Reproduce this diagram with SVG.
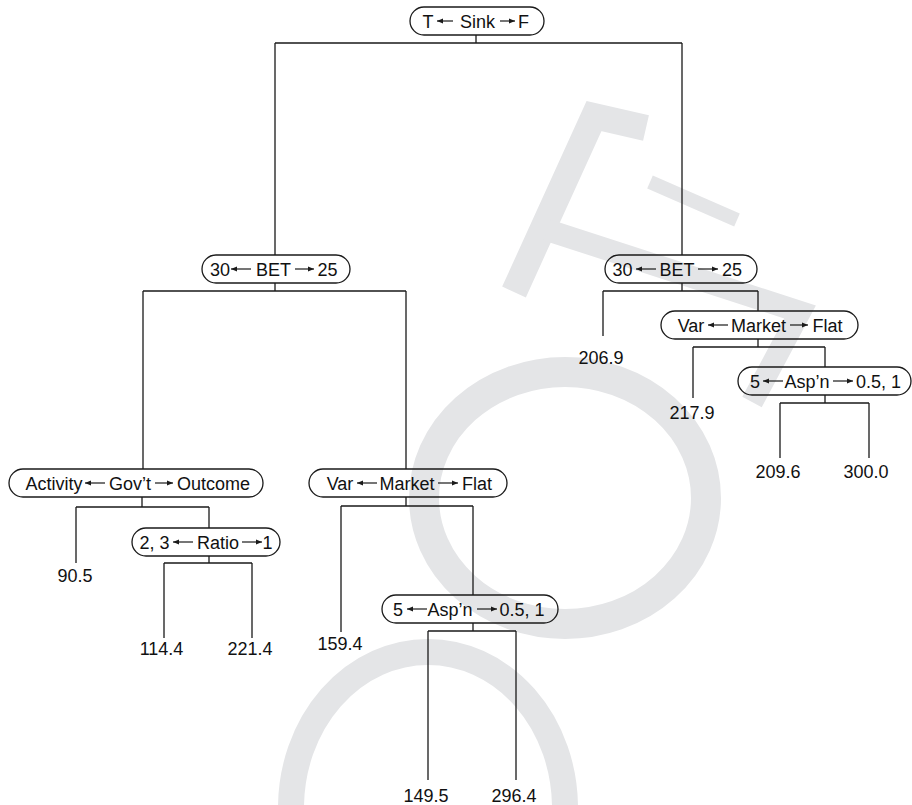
<svg xmlns="http://www.w3.org/2000/svg" width="912" height="805" viewBox="0 0 912 805">
<style>
.wm{fill:none;stroke:#e4e5e7;stroke-linecap:butt;stroke-linejoin:miter}
.pill{fill:none;stroke:#1a1a1a;stroke-width:1.3}
.cn{fill:none;stroke:#1a1a1a;stroke-width:1.3}
.ar{fill:none;stroke:#1a1a1a;stroke-width:1.2}
text{font-family:"Liberation Sans",Arial,sans-serif;font-size:18px;fill:#111;text-anchor:middle}
</style>
<defs>
<marker id="ah" markerUnits="userSpaceOnUse" markerWidth="8" markerHeight="8" refX="6" refY="3" orient="auto">
<path d="M0,0.4 L6,3 L0,5.6 Z" fill="#1a1a1a"/>
</marker>
</defs>
<rect width="912" height="805" fill="#ffffff"/>
<g id="watermark">
<ellipse class="wm" cx="565" cy="498" rx="141" ry="126" stroke-width="30"/>
<ellipse class="wm" cx="428" cy="808" rx="137" ry="156" stroke-width="26"/>
<polyline class="wm" points="514,292 594,116 646,128" stroke-width="26"/>
<line class="wm" x1="650" y1="182" x2="737" y2="220" stroke-width="14"/>
<polyline class="wm" points="547,230 800,312 752,402" stroke-width="22"/>
</g>
<g id="connectors">
<path class="cn" d="M476,35V43M275,43H682M275,43V255M682,43V255"/>
<path class="cn" d="M275,283V291M143,291H406M143,291V469M406,291V469"/>
<path class="cn" d="M682,283V291M603,291H758M603,291V336M758,291V311"/>
<path class="cn" d="M758,339V347M693,347H825M693,347V398M825,347V367"/>
<path class="cn" d="M825,395V403M780,403H869M780,403V458M869,403V458"/>
<path class="cn" d="M142,497V507M76,507H209M76,507V563M209,507V528"/>
<path class="cn" d="M209,556V563M164,563H252M164,563V638M252,563V638"/>
<path class="cn" d="M406,497V506M341,506H473M341,506V632M473,506V595"/>
<path class="cn" d="M473,623V631M428,631H516M428,631V780M516,631V780"/>
</g>
<g id="n-root">
<rect class="pill" x="410" y="7" width="134" height="28" rx="14"/>
<text x="428" y="27.5">T</text><path class="ar" d="M453,21H437" marker-end="url(#ah)"/>
<text x="477.5" y="27.5">Sink</text><path class="ar" d="M500,21H515" marker-end="url(#ah)"/>
<text x="523.5" y="27.5">F</text>
</g>
<g id="n-bet-left">
<rect class="pill" x="202" y="255" width="148" height="28" rx="14"/>
<text x="220" y="275.5">30</text><path class="ar" d="M251,269H231" marker-end="url(#ah)"/>
<text x="273.5" y="275.5">BET</text><path class="ar" d="M295,269H314" marker-end="url(#ah)"/>
<text x="327.5" y="275.5">25</text>
</g>
<g id="n-bet-right">
<rect class="pill" x="605" y="255" width="152" height="28" rx="14"/>
<text x="622.5" y="275.5">30</text><path class="ar" d="M656,269H636" marker-end="url(#ah)"/>
<text x="677" y="275.5">BET</text><path class="ar" d="M698,269H718" marker-end="url(#ah)"/>
<text x="732" y="275.5">25</text>
</g>
<g id="n-market-right">
<rect class="pill" x="661" y="311" width="197" height="28" rx="14"/>
<text x="691" y="331.5">Var</text><path class="ar" d="M728,325H708" marker-end="url(#ah)"/>
<text x="758.5" y="331.5">Market</text><path class="ar" d="M790,325H808" marker-end="url(#ah)"/>
<text x="827.5" y="331.5">Flat</text>
</g>
<g id="n-asp-right">
<rect class="pill" x="738" y="367" width="173" height="28" rx="14"/>
<text x="755" y="387.5">5</text><path class="ar" d="M783,381H763" marker-end="url(#ah)"/>
<text x="807" y="387.5">Asp’n</text><path class="ar" d="M833,381H853" marker-end="url(#ah)"/>
<text x="878.5" y="387.5">0.5, 1</text>
</g>
<g id="n-govt">
<rect class="pill" x="9" y="469" width="254" height="28" rx="14"/>
<text x="54" y="489.5">Activity</text><path class="ar" d="M105,483H85" marker-end="url(#ah)"/>
<text x="130" y="489.5">Gov’t</text><path class="ar" d="M155,483H173" marker-end="url(#ah)"/>
<text x="213.5" y="489.5">Outcome</text>
</g>
<g id="n-ratio">
<rect class="pill" x="132" y="528" width="148" height="28" rx="14"/>
<text x="154.5" y="548.5">2, 3</text><path class="ar" d="M193,542H173" marker-end="url(#ah)"/>
<text x="218" y="548.5">Ratio</text><path class="ar" d="M242,542H262" marker-end="url(#ah)"/>
<text x="267.5" y="548.5">1</text>
</g>
<g id="n-market-mid">
<rect class="pill" x="309" y="469" width="198" height="28" rx="14"/>
<text x="340" y="489.5">Var</text><path class="ar" d="M377,483H357" marker-end="url(#ah)"/>
<text x="407" y="489.5">Market</text><path class="ar" d="M438,483H458" marker-end="url(#ah)"/>
<text x="477" y="489.5">Flat</text>
</g>
<g id="n-asp-mid">
<rect class="pill" x="382" y="595" width="176" height="28" rx="14"/>
<text x="398" y="615.5">5</text><path class="ar" d="M427,609H407" marker-end="url(#ah)"/>
<text x="450" y="615.5">Asp’n</text><path class="ar" d="M477,609H497" marker-end="url(#ah)"/>
<text x="522" y="615.5">0.5, 1</text>
</g>
<g id="leaves">
<text x="601" y="364">206.9</text>
<text x="692" y="419">217.9</text>
<text x="778" y="478">209.6</text>
<text x="866" y="478">300.0</text>
<text x="75" y="582">90.5</text>
<text x="161.5" y="655">114.4</text>
<text x="250" y="655">221.4</text>
<text x="340" y="650">159.4</text>
<text x="426" y="802">149.5</text>
<text x="514" y="802">296.4</text>
</g>
</svg>
